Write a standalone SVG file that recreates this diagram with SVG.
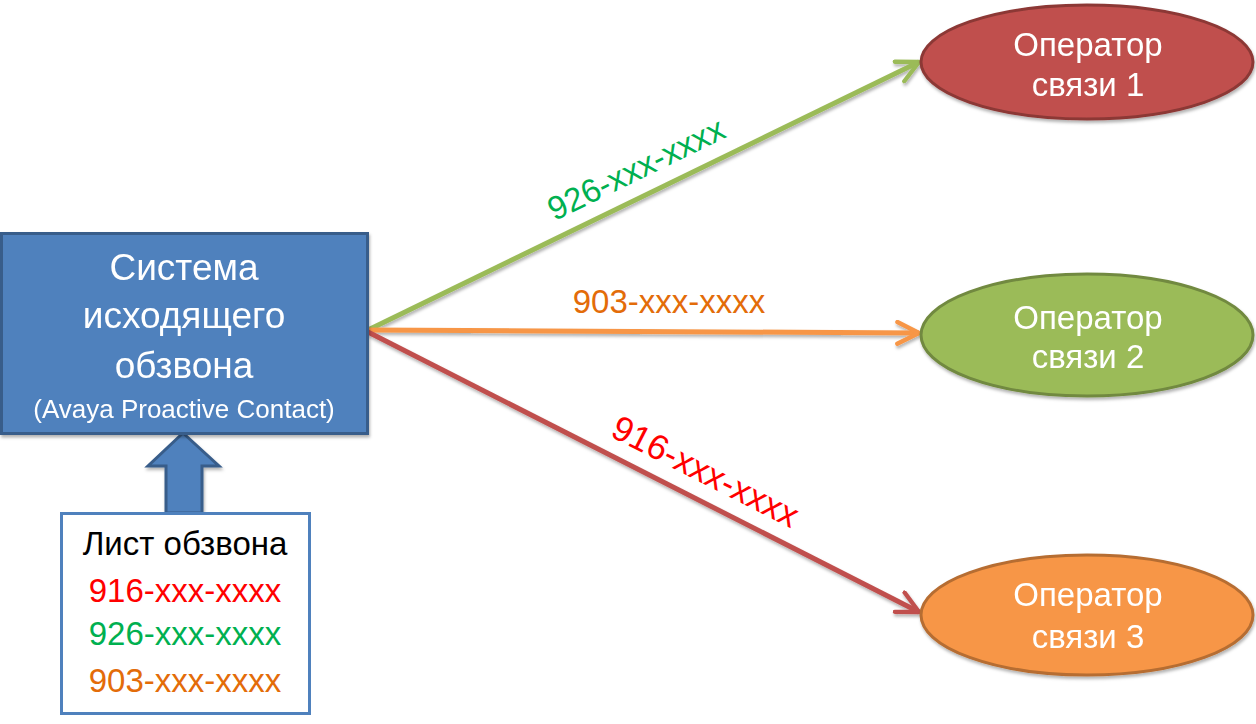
<svg xmlns="http://www.w3.org/2000/svg" width="1256" height="724" viewBox="0 0 1256 724">
<style>
text{font-family:"Liberation Sans",Arial,sans-serif;text-anchor:middle}
.w{fill:#ffffff}
.lbl{font-size:33px}
.conn{fill:none;stroke-width:5}
.head{fill:none;stroke-width:2;stroke-linecap:round;stroke-linejoin:round}
</style>
<defs>
<filter id="sh" x="-10%" y="-10%" width="120%" height="130%">
<feDropShadow dx="1" dy="2.5" stdDeviation="1.5" flood-color="#000" flood-opacity="0.3"/>
</filter>
<marker id="mg" viewBox="0 0 12 12" refX="11" refY="6" markerWidth="26" markerHeight="26" markerUnits="userSpaceOnUse" orient="auto">
<path class="head" d="M1,1 L11,6 L1,11" stroke="#9bbb59"/>
</marker>
<marker id="mo" viewBox="0 0 12 12" refX="11" refY="6" markerWidth="26" markerHeight="26" markerUnits="userSpaceOnUse" orient="auto">
<path class="head" d="M1,1 L11,6 L1,11" stroke="#f79646"/>
</marker>
<marker id="mr" viewBox="0 0 12 12" refX="11" refY="6" markerWidth="26" markerHeight="26" markerUnits="userSpaceOnUse" orient="auto">
<path class="head" d="M1,1 L11,6 L1,11" stroke="#c0504d"/>
</marker>
</defs>
<g id="connectors" filter="url(#sh)">
<line class="conn" x1="368" y1="330" x2="919" y2="62" stroke="#9bbb59" marker-end="url(#mg)"/>
<line class="conn" x1="368" y1="330" x2="919" y2="333" stroke="#f79646" marker-end="url(#mo)"/>
<line class="conn" x1="368" y1="332" x2="919" y2="612" stroke="#c0504d" marker-end="url(#mr)"/>
<path id="block-arrow" d="M183,433 L219,466 L202,466 L202,513 L166,513 L166,466 L148,466 Z" fill="#4f81bd" stroke="#385d8a" stroke-width="3" stroke-linejoin="miter"/>
</g>
<g id="labels">
<text class="lbl" fill="#00b050" transform="translate(641,179) rotate(-26)">926-xxx-xxxx</text>
<text class="lbl" x="669" y="313" fill="#e36c09">903-xxx-xxxx</text>
<text fill="#ff0000" font-size="35" transform="translate(700,482) rotate(27)">916-xxx-xxxx</text>
</g>
<g id="system" filter="url(#sh)">
<rect x="1.5" y="233.5" width="366" height="200" fill="#4f81bd" stroke="#385d8a" stroke-width="3"/>
<text class="w" x="184" y="280" font-size="37">Система</text>
<text class="w" x="184" y="328" font-size="37">исходящего</text>
<text class="w" x="184" y="378" font-size="37">обзвона</text>
<text class="w" x="184" y="418" font-size="26">(Avaya Proactive Contact)</text>
</g>
<g id="list">
<rect x="61.5" y="513.5" width="248" height="200" fill="#ffffff" stroke="#4f81bd" stroke-width="3"/>
<text x="185" y="555" font-size="33" fill="#000000">Лист обзвона</text>
<text x="185" y="602" font-size="33" fill="#ff0000">916-xxx-xxxx</text>
<text x="185" y="645" font-size="33" fill="#00b050">926-xxx-xxxx</text>
<text x="185" y="692" font-size="33" fill="#e36c09">903-xxx-xxxx</text>
</g>
<g id="op1" filter="url(#sh)">
<ellipse cx="1087" cy="62" rx="166" ry="57" fill="#c0504d" stroke="#8c3836" stroke-width="3"/>
<text class="w" x="1088" y="56" font-size="33">Оператор</text>
<text class="w" x="1088" y="96" font-size="33">связи 1</text>
</g>
<g id="op2" filter="url(#sh)">
<ellipse cx="1087" cy="335" rx="166" ry="61" fill="#9bbb59" stroke="#71893f" stroke-width="3"/>
<text class="w" x="1088" y="329" font-size="33">Оператор</text>
<text class="w" x="1088" y="368" font-size="33">связи 2</text>
</g>
<g id="op3" filter="url(#sh)">
<ellipse cx="1087" cy="615" rx="166" ry="60" fill="#f79646" stroke="#b66d31" stroke-width="3"/>
<text class="w" x="1088" y="606" font-size="33">Оператор</text>
<text class="w" x="1088" y="648" font-size="33">связи 3</text>
</g>
</svg>
